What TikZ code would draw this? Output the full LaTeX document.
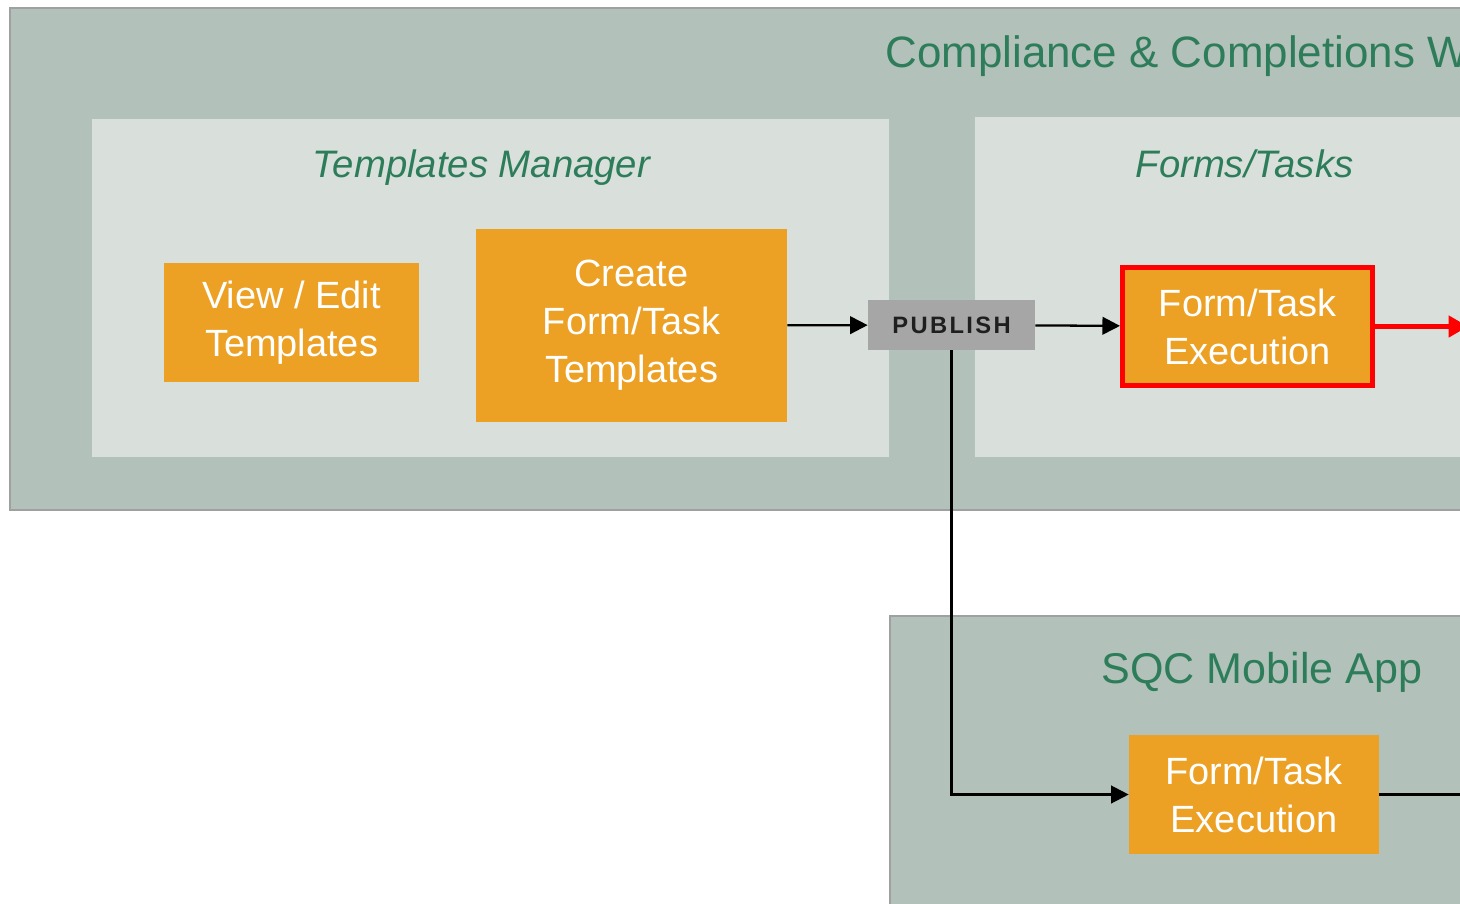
\documentclass[tikz,border=0pt]{standalone}
\usepackage{fontspec}
\setmainfont{Liberation Sans}
\usetikzlibrary{arrows.meta}
\definecolor{shell}{RGB}{178,193,185}
\definecolor{panel}{RGB}{217,224,220}
\definecolor{task}{RGB}{236,160,36}
\definecolor{heading}{RGB}{46,125,90}
\definecolor{frame}{RGB}{160,160,160}
\definecolor{stamp}{RGB}{166,166,166}

\tikzset{
  taskbox/.style={fill=task, text=white, align=center, inner sep=0pt,
    font=\fontsize{21.6}{27.3}\selectfont},
  bigtitle/.style={text=heading, inner sep=0pt, anchor=base,
    font=\fontsize{24.5}{29}\selectfont},
  subtitle/.style={text=heading, inner sep=0pt, anchor=base,
    font=\fontsize{21.8}{26}\selectfont\itshape},
  arr/.style={line width=1.3pt, -{Triangle[length=10pt,width=10pt]}},
}

\begin{document}
\begin{tikzpicture}[x=0.02cm,y=-0.02cm]
  \useasboundingbox (0,0) rectangle (1460,903);
  \clip (0,0) rectangle (1460,903);
  % outer web panel
  \filldraw[fill=shell,draw=frame,line width=0.9pt] (10,8) rectangle (1490,510);
  \fill[panel] (92,119) rectangle (889,457);    % templates manager
  \fill[panel] (975,117) rectangle (1490,457);  % forms/tasks
  % mobile panel
  \filldraw[fill=shell,draw=frame,line width=0.9pt] (890,616) rectangle (1490,930);
  % headings
  \node[bigtitle,anchor=base west,font=\fontsize{25}{29}\selectfont] (webtitle) at (885,67)
     {Compliance \& Completions W};
  \node[subtitle] (tmtitle) at (481.5,177) {Templates Manager};
  \node[subtitle] (fttitle) at (1244.5,177) {Forms/Tasks};
  \node[bigtitle] (apptitle) at (1262,683) {SQC Mobile App};
  % boxes
  \node[taskbox,minimum width=5.1cm,minimum height=2.38cm] (view) at (291.5,322.5)
     {View / Edit\\Templates};
  \node[taskbox,minimum width=6.22cm,minimum height=3.86cm] (create) at (631.5,325.5)
     {Create\\Form/Task\\Templates};
  \node[fill=stamp,text=black!88,inner sep=0pt,minimum width=3.34cm,minimum height=1cm,
     font=\fontsize{13.5}{16}\selectfont\bfseries\addfontfeatures{LetterSpace=10}]
     (publish) at (951.5,325) {PUBLISH};
  \node[taskbox,draw=red,line width=2.85pt,minimum width=5cm,minimum height=2.36cm]
     (webexec) at (1247.5,326.5) {Form/Task\\Execution};
  \node[taskbox,minimum width=5cm,minimum height=2.38cm] (appexec) at (1254,794.5)
     {Form/Task\\Execution};
  % loose ends past the right edge
  \coordinate (webout) at (1468,326.5);
  \coordinate (appout) at (1480,794.5);
  % flow
  \draw[arr] (create) -- (publish);
  \draw[arr] (publish) -- (webexec);
  \draw[arr] (publish.south) |- (appexec.west);
  \draw[red,line width=2.4pt,-{Triangle[length=11pt,width=12pt]}] (webexec) -- (webout);
  \draw[line width=1.3pt] (appexec) -- (appout);
\end{tikzpicture}
\end{document}
